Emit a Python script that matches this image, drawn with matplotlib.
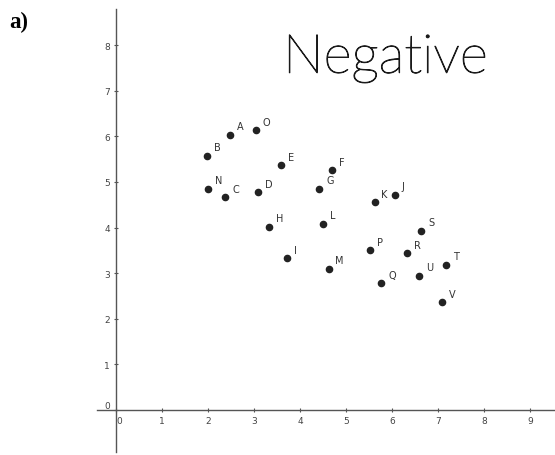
import matplotlib
matplotlib.use("Agg")
import matplotlib.pyplot as plt
import matplotlib.patheffects as pe

# --- datos ---
etiquetas = ["A", "O", "B", "E", "F", "N", "C", "D", "G", "H", "L",
             "I", "M", "P", "K", "J", "S", "R", "T", "U", "Q", "V"]
x_vals = [2.48, 3.04, 1.98, 3.59, 4.69, 2.00, 2.38, 3.09, 4.42, 3.32, 4.49,
          3.72, 4.62, 5.53, 5.62, 6.06, 6.64, 6.33, 7.18, 6.59, 5.77, 7.09]
y_vals = [6.04, 6.13, 5.57, 5.37, 5.26, 4.85, 4.66, 4.77, 4.85, 4.02, 4.08,
          3.33, 3.10, 3.50, 4.56, 4.72, 3.93, 3.44, 3.18, 2.94, 2.78, 2.36]
x_ticks = list(range(0, 10))
y_ticks = list(range(0, 9))

fig = plt.figure(figsize=(5.55, 4.56), dpi=100)
ax = fig.add_axes([0, 0, 1, 1])
ax.set_xlim(-2.522, 9.543)
ax.set_ylim(-0.987, 9.013)

# ejes cruzando en el origen
for lado in ["top", "right"]:
    ax.spines[lado].set_visible(False)
ax.spines["left"].set_position(("data", 0))
ax.spines["bottom"].set_position(("data", 0))
ax.spines["left"].set_bounds(-0.92, 8.79)
ax.spines["bottom"].set_bounds(-0.41, 9.54)
for lado in ["left", "bottom"]:
    ax.spines[lado].set_color("#555555")
    ax.spines[lado].set_linewidth(1.0)

ax.set_xticks(x_ticks)
ax.set_yticks(y_ticks)
ax.tick_params(axis="both", labelsize=6.5, labelcolor="#444444", color="#555555",
               width=0.8, length=3, direction="inout", pad=3)
for lbl in ax.get_xticklabels():
    if lbl.get_text() == "0":
        lbl.set_ha("left")
for lbl in ax.get_yticklabels():
    if lbl.get_text() == "0":
        lbl.set_va("bottom")

# puntos y letras
ax.scatter(x_vals, y_vals, s=20, color="#222222", zorder=3)
for nombre, x, y in zip(etiquetas, x_vals, y_vals):
    ax.annotate(nombre, (x, y), xytext=(5, 4), textcoords="offset points",
                fontsize=7, color="#333333")

# texto manuscrito y rótulo
fig.text(0.51, 0.87, "Negative", fontsize=39, family="Lato", weight="light",
         color="#1a1a1a", ha="left", va="center",
         path_effects=[pe.withStroke(linewidth=0.7, foreground="#1a1a1a")])
fig.text(0.016, 0.95, "a)", fontsize=16.5, family="Liberation Serif",
         weight="bold", ha="left", va="center")

fig.savefig("out.png", dpi=100)
